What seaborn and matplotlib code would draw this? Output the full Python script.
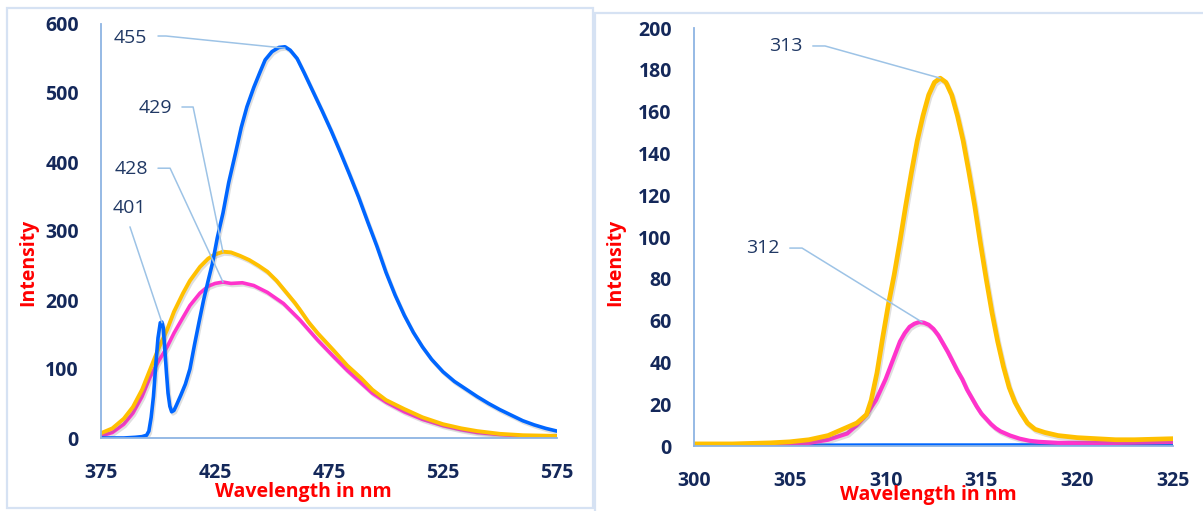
# Emission spectra (left) and excitation spectra (right)
import numpy as np
import pandas as pd
import matplotlib
matplotlib.use("Agg")
import matplotlib.pyplot as plt
import matplotlib.patheffects as pe
from matplotlib.patches import Rectangle
import seaborn as sns

# --- data ---
# left panel: emission, wavelength in nm
em_blue_wl = [375, 380, 385, 390, 393, 395, 396, 397, 398, 399, 400, 401, 401.7, 402.3, 403, 403.7,
              404.4, 405.2, 406, 407, 408, 410, 412, 414, 416, 418, 420, 422, 424, 426, 428.5,
              431, 434, 436.5, 439, 442, 444.7, 447, 450, 453, 455.7, 458, 461, 464, 468, 472,
              476, 480, 484, 488, 492, 496, 500, 504, 508, 512, 516, 520, 525, 530, 535, 540,
              545, 550, 555, 560, 565, 570, 575]
em_blue_int = [0, 0, 0, 1, 2, 4, 10, 30, 60, 105, 145, 167, 168, 160, 128, 95,
               65, 46, 38, 40, 47, 62, 78, 100, 135, 168, 200, 228, 255, 290, 326,
               370, 413, 450, 480, 508, 530, 548, 560, 566, 567, 562, 550, 530, 502, 474,
               445, 414, 382, 349, 313, 278, 240, 207, 178, 153, 132, 114, 96, 82, 71, 60,
               50, 41, 33, 25, 19, 14, 10]

em_yellow_wl = [375, 380, 385, 389, 393, 396.5, 400, 404, 407, 411, 414, 418.4, 422, 425, 428.5,
                432, 436, 440, 444, 448, 452, 456, 460, 462, 466, 470, 477, 483, 489, 494, 500,
                508, 516, 525, 533, 540, 550, 560, 575]
em_yellow_int = [7, 14, 28, 45, 70, 99, 128, 157, 183, 210, 228, 248, 260, 266, 270,
                 269, 264, 258, 250, 241, 228, 212, 196, 187, 168, 152, 127, 105, 87, 70, 55,
                 42, 30, 20, 14, 10, 6, 4, 3]

em_pink_wl = [375, 380, 385, 389, 393, 396.5, 400, 404, 407, 411, 414, 418.4, 422, 425, 428.5,
              432, 437, 442, 448, 455, 462, 470, 477, 483, 489, 494, 500, 508, 516, 525, 533,
              540, 550, 560, 575]
em_pink_int = [3, 8, 20, 36, 60, 88, 110, 132, 152, 175, 192, 210, 220, 224, 226,
               224, 225, 221, 211, 195, 172, 142, 118, 98, 80, 65, 52, 38, 27, 18, 12,
               8, 5, 3, 2]

# right panel: excitation
ex_yellow_wl = [300, 302, 304, 305, 306, 307, 308, 308.5, 309, 309.25, 309.55, 309.85, 310.15,
                310.45, 310.75, 311.05, 311.35, 311.65, 311.95, 312.25, 312.55, 312.85, 313.15,
                313.45, 313.75, 314.05, 314.35, 314.65, 314.95, 315.25, 315.55, 315.85, 316.15,
                316.45, 316.75, 317.05, 317.4, 317.8, 318.3, 319, 320, 321, 322, 323, 325]
ex_yellow_int = [1, 1, 1.5, 2, 3, 5, 9, 11, 15, 22, 35, 52, 68,
                 82, 98, 115, 131, 146, 158, 168, 174, 176, 174,
                 168, 158, 146, 131, 115, 97, 80, 64, 50, 38,
                 28, 21, 16, 11, 8, 6.5, 5, 4, 3.5, 3, 3, 3.5]

ex_pink_wl = [300, 303, 305, 306, 307, 308, 308.5, 309, 309.5, 309.75, 310, 310.25, 310.5, 310.75,
              311, 311.25, 311.5, 311.75, 312, 312.25, 312.5, 312.75, 313, 313.25, 313.5, 313.75,
              314, 314.25, 314.5, 314.75, 315, 315.25, 315.5, 315.75, 316, 316.5, 317, 317.5,
              318, 319, 320, 322, 325]
ex_pink_int = [0.5, 0.7, 1, 1.5, 3, 6, 10, 15, 22, 27, 32, 38, 44, 50,
               54, 57, 58.5, 59.3, 59, 58, 56, 53, 49, 45, 40.5, 36,
               32, 27, 23, 19, 15.5, 13, 10.5, 8.5, 7, 5, 3.5, 2.5,
               2, 1.5, 1.5, 1.5, 2]

ex_blue_wl = [300, 305, 310, 315, 320, 325]
ex_blue_int = [0.2, 0.2, 0.3, 0.3, 0.4, 0.5]

# peak labels: (text, text x, text y, leader points)
left_labels = [
    ("455", 387.7, 580, [(400.0, 582.6), (403.5, 582.6), (455.7, 565)]),
    ("429", 398.7, 478, [(410.5, 479.7), (415.4, 479.7), (428.5, 269.6)]),
    ("428", 388.2, 390, [(400.0, 391), (405.3, 391), (428.5, 226)]),
    ("401", 387.3, 333, [(387.7, 306), (401.75, 167)]),
]
right_labels = [
    ("313", 304.8, 191.4, [(306.2, 191.4), (306.84, 191.4), (312.85, 176)]),
    ("312", 303.6, 94.7, [(305.0, 94.7), (305.64, 94.7), (311.9, 59.3)]),
]

BLUE = "#0066ff"
YELLOW = "#ffc000"
PINK = "#ff33cc"
NAVY = "#14285a"
AXIS = "#8eb4e3"
LEADER = "#9dc3e6"
FRAME = "#d6e2f3"

sns.set_style("white")
plt.rcParams["font.family"] = ["Open Sans", "DejaVu Sans"]

fig = plt.figure(figsize=(12.03, 5.11), dpi=100)
W, H = 1203, 511

# light panel frames
fig.add_artist(Rectangle((7 / W, 1 - 508 / H), 586 / W, 500 / H, transform=fig.transFigure,
                         fill=False, ec=FRAME, lw=1.6))
fig.add_artist(Rectangle((595 / W, -0.02), 620 / W, 1.02 - 13 / H, transform=fig.transFigure,
                         fill=False, ec=FRAME, lw=1.6))

ax1 = fig.add_axes([101 / W, 1 - 438 / H, 456 / W, 414 / H])
ax2 = fig.add_axes([694 / W, 1 - 446 / H, 479 / W, 418 / H])

shadow = [pe.SimpleLineShadow(offset=(1, -1.5), shadow_color="gray", alpha=0.25), pe.Normal()]


def draw(ax, wl, inten, color, lw):
    df = pd.DataFrame({"wl": wl, "I": inten})
    sns.lineplot(data=df, x="wl", y="I", ax=ax, color=color, lw=lw,
                 path_effects=shadow, solid_capstyle="round", solid_joinstyle="round")


draw(ax1, em_pink_wl, em_pink_int, PINK, 2.6)
draw(ax1, em_yellow_wl, em_yellow_int, YELLOW, 2.8)
draw(ax1, em_blue_wl, em_blue_int, BLUE, 2.6)

draw(ax2, ex_blue_wl, ex_blue_int, BLUE, 3.0)
draw(ax2, ex_pink_wl, ex_pink_int, PINK, 3.0)
draw(ax2, ex_yellow_wl, ex_yellow_int, YELLOW, 3.4)

ax1.set_xlim(375, 575)
ax1.set_ylim(0, 600)
ax1.set_xticks([375, 425, 475, 525, 575])
ax1.set_yticks(range(0, 601, 100))
ax2.set_xlim(300, 325)
ax2.set_ylim(0, 200)
ax2.set_xticks([300, 305, 310, 315, 320, 325])
ax2.set_yticks(range(0, 201, 20))

for ax, labels in [(ax1, left_labels), (ax2, right_labels)]:
    for side in ["top", "right"]:
        ax.spines[side].set_visible(False)
    for side in ["left", "bottom"]:
        ax.spines[side].set_color(AXIS)
        ax.spines[side].set_linewidth(1.3)
    ax.tick_params(axis="both", length=0, labelsize=14, labelcolor=NAVY)
    ax.tick_params(axis="x", pad=18)
    ax.tick_params(axis="y", pad=16)
    for lab in ax.get_xticklabels() + ax.get_yticklabels():
        lab.set_fontweight("bold")
    ax.set_xlabel("Wavelength in nm", color="red", fontweight="bold", fontsize=14, va="center")
    ax.set_ylabel("Intensity", color="red", fontweight="bold", fontsize=14, va="center")
    for txt, tx, ty, pts in labels:
        xs, ys = zip(*pts)
        ax.plot(xs, ys, color=LEADER, lw=1.1, clip_on=False, zorder=5)
        ax.text(tx, ty, txt, ha="center", va="center", fontsize=14, color="#203864")

ax1.xaxis.set_label_coords(0.443, -0.13)
ax1.yaxis.set_label_coords(-0.16, 0.425)
ax2.xaxis.set_label_coords(0.49, -0.117)
ax2.yaxis.set_label_coords(-0.165, 0.44)

fig.savefig("out.png", dpi=100)
